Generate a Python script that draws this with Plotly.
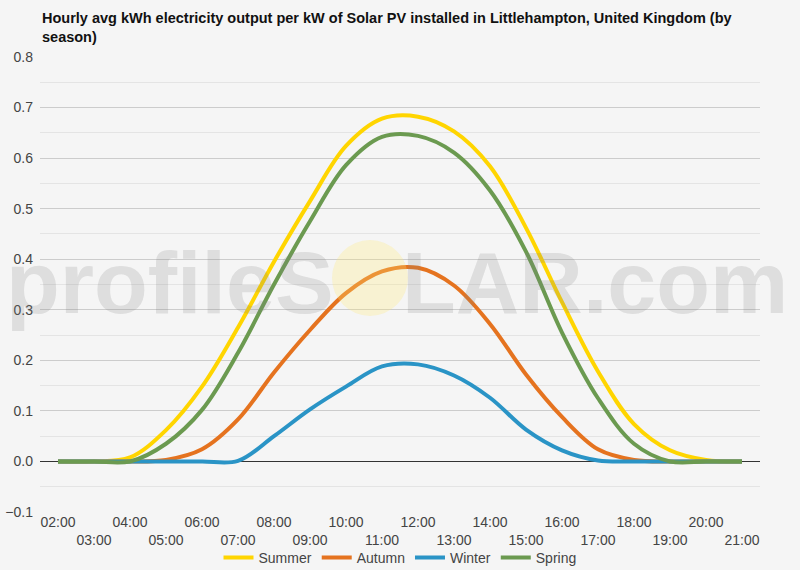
import plotly.graph_objects as go

hours = ["02:00", "03:00", "04:00", "05:00", "06:00", "07:00", "08:00", "09:00", "10:00", "11:00",
         "12:00", "13:00", "14:00", "15:00", "16:00", "17:00", "18:00", "19:00", "20:00", "21:00"]
summer = [0, 0, 0.008, 0.062, 0.148, 0.265, 0.395, 0.515, 0.624, 0.678,
          0.682, 0.653, 0.584, 0.462, 0.315, 0.178, 0.074, 0.022, 0.003, 0]
autumn = [0, 0, 0, 0.003, 0.024, 0.083, 0.176, 0.260, 0.333, 0.376,
          0.383, 0.348, 0.272, 0.172, 0.088, 0.024, 0.003, 0, 0, 0]
winter = [0, 0, 0, 0, 0, 0.001, 0.050, 0.103, 0.148, 0.188,
          0.192, 0.170, 0.126, 0.063, 0.022, 0.002, 0, 0, 0, 0]
spring = [0, 0, 0, 0.035, 0.102, 0.215, 0.350, 0.475, 0.586, 0.642,
          0.644, 0.611, 0.536, 0.415, 0.255, 0.125, 0.035, 0, 0, 0]

series = [("Summer", summer, "#FFD500"), ("Autumn", autumn, "#E5731F"),
          ("Winter", winter, "#2A94C6"), ("Spring", spring, "#6B9A50")]

fig = go.Figure()
for name, vals, col in series:
    fig.add_trace(go.Scatter(x=hours, y=vals, name=name, mode="lines",
                             line=dict(color=col, width=4, shape="spline", smoothing=1.0),
                             hoverinfo="x+y+name"))

ticktext = [h if i % 2 == 0 else "<br>" + h for i, h in enumerate(hours)]

fig.update_layout(
    width=800, height=570,
    paper_bgcolor="#F5F5F5", plot_bgcolor="#F5F5F5",
    margin=dict(l=40, r=40, t=57, b=58, autoexpand=False),
    font=dict(family="Liberation Sans, Arial, sans-serif", size=14, color="#444444"),
    showlegend=True,
    legend=dict(orientation="h", x=0.5, xanchor="center",
                yref="container", y=12/570, yanchor="middle",
                font=dict(size=14, color="#444444"), bgcolor="rgba(0,0,0,0)",
                itemwidth=30, traceorder="normal"),
    xaxis=dict(type="category", tickmode="array", tickvals=hours, ticktext=ticktext,
               tickangle=0, showgrid=False, showline=False, ticks="",
               tickfont=dict(size=14, color="#444444"),
               range=[-0.5, len(hours)-0.5]),
    yaxis=dict(range=[-0.1, 0.8], tickmode="linear", tick0=-0.1, dtick=0.1, tickformat=".1f",
               showgrid=True, gridcolor="#CCCCCC", gridwidth=1,
               minor=dict(dtick=0.05, tick0=0, showgrid=True, gridcolor="#E4E4E4"),
               zeroline=True, zerolinecolor="#333333", zerolinewidth=1,
               showline=False, ticks="", ticklabelstandoff=6,
               tickfont=dict(size=14, color="#444444")),
)

# title
fig.add_annotation(text="Hourly avg kWh electricity output per kW of Solar PV installed in Littlehampton, United Kingdom (by<br>season)",
                   xref="paper", yref="paper", x=0, y=1 + 49/455, xanchor="left", yanchor="top",
                   align="left", showarrow=False,
                   font=dict(family="Liberation Sans, Arial, sans-serif", size=14.5, color="#111111", weight="bold"))

# watermark
fig.add_annotation(text="profileS<span style='color:rgba(0,0,0,0)'>O</span>LAR.com",
                   xref="paper", yref="paper", x=(397-40)/720, y=(512-282)/455,
                   xanchor="center", yanchor="middle", showarrow=False,
                   font=dict(family="Liberation Sans, Arial, sans-serif", size=88, weight="bold",
                             color="rgba(128,128,128,0.2)"))
fig.add_shape(type="circle", xref="paper", yref="paper",
              x0=(332-40)/720, x1=(408-40)/720, y0=(512-316)/455, y1=(512-240)/455,
              fillcolor="rgba(255,235,120,0.28)", line=dict(width=0), layer="above")

fig.write_html("out.html")
